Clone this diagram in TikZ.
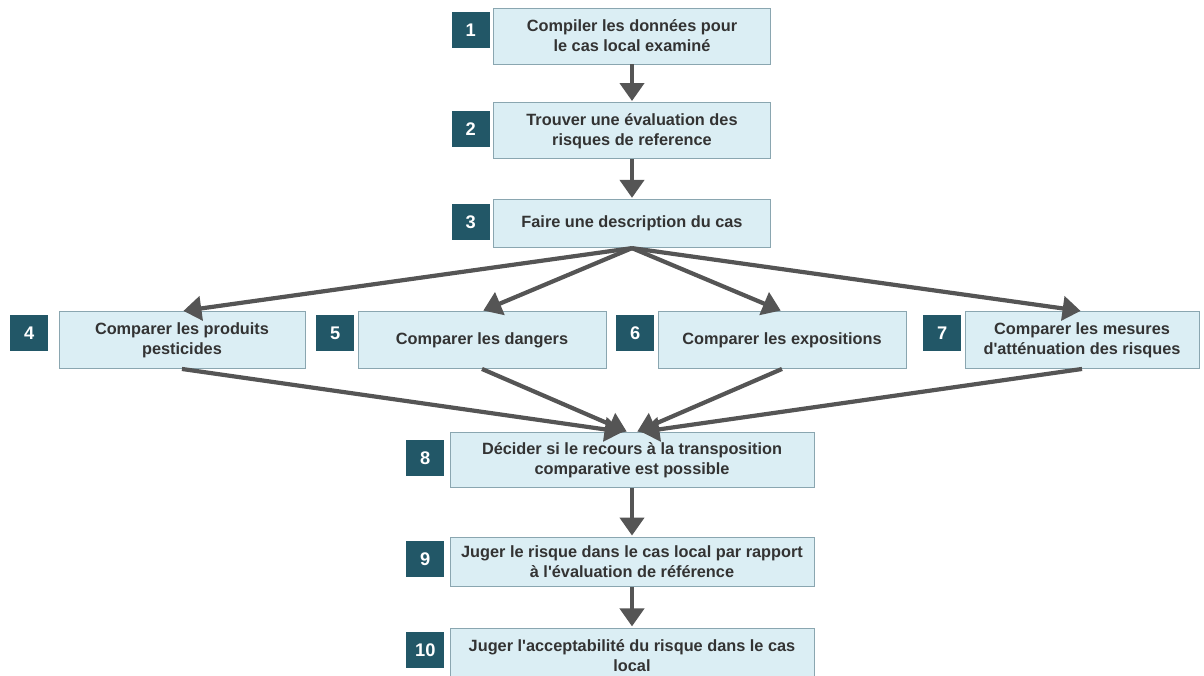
\documentclass[tikz,border=0pt]{standalone}
\usepackage{fontspec}
\setmainfont{Liberation Sans}
\usepackage{xcolor}
\usetikzlibrary{arrows.meta}
\usetikzlibrary{calc}
\usetikzlibrary{positioning}

\definecolor{boxfill}{HTML}{DBEEF4}
\definecolor{boxline}{HTML}{8AA6B0}
\definecolor{numfill}{HTML}{225767}
\definecolor{arrowgray}{HTML}{555555}
\definecolor{textgray}{HTML}{333333}

\begin{document}
\begin{tikzpicture}[>={Triangle[length=0.45cm,width=0.6cm]},shorten >=1pt,node distance=1cm]
						\tikzstyle{stepbox}=[draw=boxline, fill=boxfill, line width=0.6pt, text=textgray, align=center, inner sep=2pt, minimum width=6.925cm, minimum height=1.4cm, font=\fontsize{11.6}{14.2}\selectfont\bfseries]
						\tikzstyle{numbox}=[fill=numfill, text=white, inner sep=0pt, minimum width=0.95cm, minimum height=0.9cm, anchor=north east, font=\fontsize{13}{15}\selectfont\bfseries]
						\tikzstyle{flow}=[->, draw=arrowgray, line width=3pt]
						\useasboundingbox (0,0) rectangle (30.1,-16.875);

						% central column
						\node[stepbox] 		(b1) at (15.8,-0.9)    		{Compiler les données pour\\le cas local examiné};
						\node[stepbox] 			(b2) [below=0.95cm of b1]            {Trouver une évaluation des\\risques de reference};
						\node[stepbox, minimum height=1.2cm] 			(b3) [below=1cm of b2]            {Faire une description du cas};

						% the four comparisons
						\node[stepbox, minimum width=6.15cm, minimum height=1.425cm] 			(b4) [below=1.575cm of b3, xshift=-11.25cm]            {Comparer les produits\\pesticides};
						\node[stepbox, minimum width=6.2cm, minimum height=1.425cm] 			(b5) [below=1.575cm of b3, xshift=-3.75cm]            {Comparer les dangers};
						\node[stepbox, minimum width=6.2cm, minimum height=1.425cm] 			(b6) [below=1.575cm of b3, xshift=3.75cm]            {Comparer les expositions};
						\node[stepbox, minimum width=5.85cm, minimum height=1.425cm] 			(b7) [below=1.575cm of b3, xshift=11.25cm]            {Comparer les mesures\\d\textquotesingle atténuation des risques};

						\node[stepbox, minimum width=9.1cm, minimum height=1.375cm] 			(b8) [below=4.6cm of b3]            {Décider si le recours à la transposition\\comparative est possible};
						\node[stepbox, minimum width=9.1cm, minimum height=1.225cm] 			(b9) [below=1.225cm of b8]            {Juger le risque dans le cas local par rapport\\à l\textquotesingle évaluation de référence};
						\node[stepbox, minimum width=9.1cm, minimum height=1.375cm] 			(b10) [below=1.025cm of b9]            {Juger l\textquotesingle acceptabilité du risque dans le cas\\local};

						% step numbers
						\node[numbox] (n1) at ([xshift=-0.075cm,yshift=-0.1cm]b1.north west) {1};
						\node[numbox] (n2) at ([xshift=-0.075cm,yshift=-0.2cm]b2.north west) {2};
						\node[numbox] (n3) at ([xshift=-0.075cm,yshift=-0.12cm]b3.north west) {3};
						\node[numbox] (n4) at ([xshift=-0.25cm,yshift=-0.1cm]b4.north west) {4};
						\node[numbox] (n5) at ([xshift=-0.075cm,yshift=-0.1cm]b5.north west) {5};
						\node[numbox] (n6) at ([xshift=-0.075cm,yshift=-0.1cm]b6.north west) {6};
						\node[numbox] (n7) at ([xshift=-0.075cm,yshift=-0.1cm]b7.north west) {7};
						\node[numbox] (n8) at ([xshift=-0.125cm,yshift=-0.2cm]b8.north west) {8};
						\node[numbox] (n9) at ([xshift=-0.125cm,yshift=-0.1cm]b9.north west) {9};
						\node[numbox] (n10) at ([xshift=-0.125cm,yshift=-0.1cm]b10.north west) {10};

						\path
							(b1) edge [flow] (b2)
							(b2) edge [flow] (b3)
							(b3.south) edge [flow] (b4.north)
							(b3.south) edge [flow] (b5.north)
							(b3.south) edge [flow] (b6.north)
							(b3.south) edge [flow] (b7.north)
							(b4.south) edge [flow] ([xshift=-0.2cm]b8.north)
							(b5.south) edge [flow] ([xshift=-0.1cm]b8.north)
							(b6.south) edge [flow] ([xshift=0.1cm]b8.north)
							(b7.south) edge [flow] ([xshift=0.2cm]b8.north)
							(b8) edge [flow] (b9)
							(b9) edge [flow] (b10);
				\end{tikzpicture}
\end{document}
